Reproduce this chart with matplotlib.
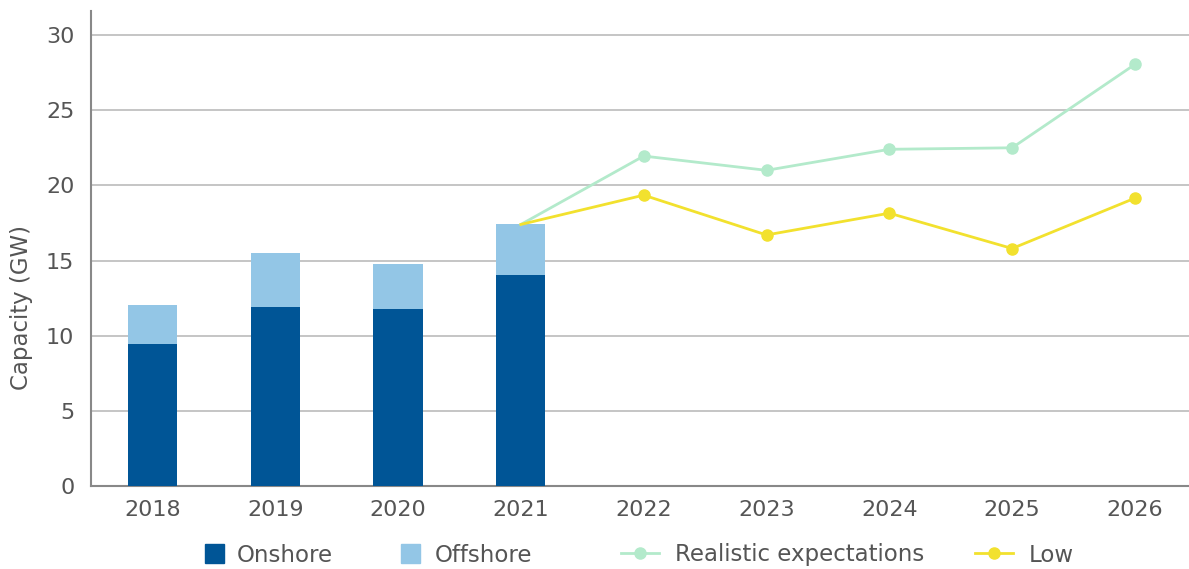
import matplotlib
matplotlib.use("Agg")
import matplotlib.pyplot as plt
from matplotlib.lines import Line2D

years = ["2018", "2019", "2020", "2021", "2022", "2023", "2024", "2025", "2026"]
onshore = [9.45, 11.9, 11.8, 14.05]
offshore = [2.6, 3.6, 2.95, 3.35]
realistic = [17.4, 21.95, 21.0, 22.4, 22.5, 28.05]
low = [17.4, 19.35, 16.7, 18.15, 15.8, 19.15]
legend_labels = ["Onshore", "Offshore", "Realistic expectations", "Low"]

c_on = "#005596"
c_off = "#93C6E6"
c_real = "#B3EACB"
c_low = "#F2E12E"
txt = "#555555"

plt.rcParams['font.family'] = ['DejaVu Sans']

W, H = 1189, 569
fig = plt.figure(figsize=(W/100, H/100), dpi=100)
ax = fig.add_axes([91/W, 1-486/H, 1-91/W, (486-11)/H])

x = list(range(len(years)))
nb = len(onshore)
ax.bar(x[:nb], onshore, width=0.4, color=c_on, zorder=3)
ax.bar(x[:nb], offshore, width=0.4, bottom=onshore, color=c_off, zorder=3)

lx = x[nb-1:]
ax.plot(lx, realistic, color=c_real, lw=2, zorder=4)
ax.plot(lx[1:], realistic[1:], 'o', color=c_real, ms=8, zorder=5)
ax.plot(lx, low, color=c_low, lw=2, zorder=4)
ax.plot(lx[1:], low[1:], 'o', color=c_low, ms=8, zorder=5)

ax.set_xlim(-0.5, 8.44)
ax.set_ylim(0, 31.6)
ax.set_yticks([0, 5, 10, 15, 20, 25, 30])
ax.set_xticks(x)
ax.set_xticklabels(years)
ax.yaxis.grid(True, color="#bbbbbb", lw=1.2, zorder=0)
ax.set_axisbelow(True)
for s in ["top", "right"]:
    ax.spines[s].set_visible(False)
for s in ["left", "bottom"]:
    ax.spines[s].set_color("#888888")
    ax.spines[s].set_linewidth(1.5)
ax.tick_params(axis='both', length=0, labelsize=16, colors=txt, pad=10)
ax.tick_params(axis='y', pad=12)
ax.set_ylabel("Capacity (GW)", fontsize=16.5, color=txt)
ax.yaxis.set_label_coords(-58/1098, (486-308)/475)

sq_ms = 19 * 72 / 100
handles = [
    Line2D([0], [0], ls='none', marker='s', ms=sq_ms, color=c_on),
    Line2D([0], [0], ls='none', marker='s', ms=sq_ms, color=c_off),
    Line2D([0], [0], color=c_real, lw=2, marker='o', ms=8),
    Line2D([0], [0], color=c_low, lw=2, marker='o', ms=8),
]
fs = 16.5
em = fs * 100 / 72
xs = [204, 400, 621, 975]
hl = [19/em, 19/em, 38/em, 38/em]
tp = [0.6, 0.7, 0.72, 0.68]
ly = 1 - 555/H
for h, lab, x0, L, p in zip(handles, legend_labels, xs, hl, tp):
    fig.legend(handles=[h], labels=[lab], loc="center left", bbox_to_anchor=(x0/W, ly),
               frameon=False, fontsize=fs, handlelength=L, handletextpad=p,
               borderpad=0, borderaxespad=0, labelcolor=txt)

fig.savefig("out.png", dpi=100)
